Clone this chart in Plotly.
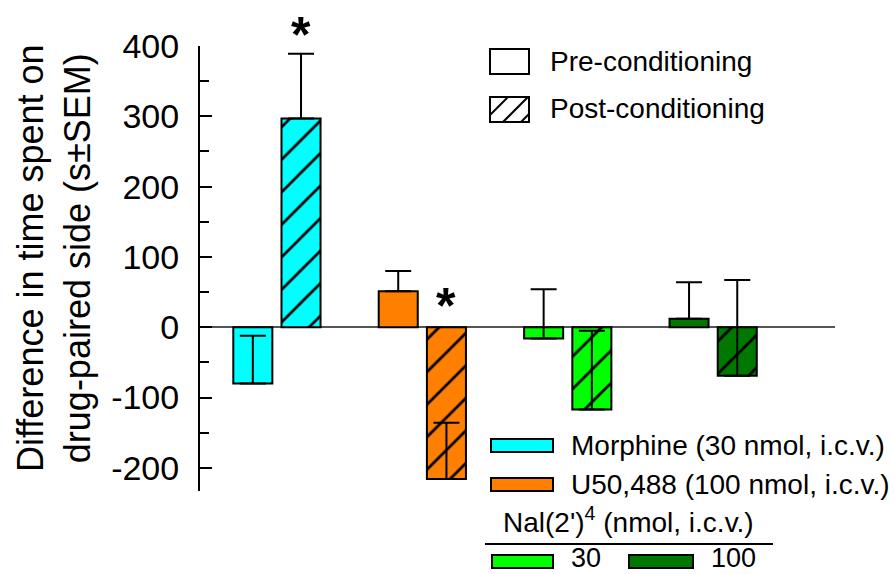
import plotly.graph_objects as go

# ---- data ----
categories = ["Morphine", "U50,488", "Nal30", "Nal100"]
pre_mean = [-80, 51, -16, 12]
pre_sem = [68, 29, 70, 52]
post_mean = [297, -216, -117, -69]
post_sem = [92, 80, 112, 136]
colors = ["#00FFFF", "#FF8000", "#00FF00", "#007800"]
y_ticks = [-200, -100, 0, 100, 200, 300, 400]
y_tick_labels = ["-200", "-100", "0", "100", "200", "300", "400"]

FONT = "Liberation Sans, Arial, sans-serif"

fig = go.Figure()
for i, cat in enumerate(categories):
    fig.add_trace(go.Bar(
        x=[cat], y=[pre_mean[i]], name=cat + " pre", offsetgroup="pre",
        marker=dict(color=colors[i], line=dict(color="black", width=2)),
        error_y=dict(type="data", symmetric=False, array=[pre_sem[i]],
                     arrayminus=[0], color="black", thickness=2, width=13),
        showlegend=False,
    ))
    fig.add_trace(go.Bar(
        x=[cat], y=[post_mean[i]], name=cat + " post", offsetgroup="post",
        marker=dict(color=colors[i], line=dict(color="black", width=2),
                    pattern=dict(shape="/", fillmode="overlay", bgcolor=colors[i],
                                 fgcolor="black", fgopacity=1, size=23, solidity=0.12)),
        error_y=dict(type="data", symmetric=False, array=[post_sem[i]],
                     arrayminus=[0], color="black", thickness=2, width=13),
        showlegend=False,
    ))

L, R, T, B = 200, 59, 46, 83
W, H = 894, 574
PW, PH = W - L - R, H - T - B


def px(x):
    return (x - L) / PW


def py(y):
    return (H - B - y) / PH


shapes = []
annotations = []

# legend 1 (pre/post)
shapes.append(dict(type="rect", xref="paper", yref="paper", x0=px(490), x1=px(529),
                   y0=py(74), y1=py(49), line=dict(color="black", width=2), fillcolor="white"))
shapes.append(dict(type="rect", xref="paper", yref="paper", x0=px(490), x1=px(529),
                   y0=py(122), y1=py(97), line=dict(color="black", width=2), fillcolor="white"))
for (x0, y0, x1, y1) in [(490, 115, 508, 97), (503, 122, 528, 97), (521, 122, 529, 114)]:
    shapes.append(dict(type="line", xref="paper", yref="paper", x0=px(x0), y0=py(y0),
                       x1=px(x1), y1=py(y1), line=dict(color="black", width=2)))
annotations.append(dict(text="Pre-conditioning", x=px(548), y=py(62), xref="paper", yref="paper",
                        xanchor="left", yanchor="middle", showarrow=False,
                        font=dict(size=28, family=FONT, color="black")))
annotations.append(dict(text="Post-conditioning", x=px(548), y=py(109), xref="paper", yref="paper",
                        xanchor="left", yanchor="middle", showarrow=False,
                        font=dict(size=28, family=FONT, color="black")))

# legend 2 (drugs)
swatches = [(491, 553, 439, 452, colors[0]), (491, 553, 478, 491, colors[1]),
            (492, 553, 555, 568, colors[2]), (629, 693, 555, 568, colors[3])]
for (x0, x1, y0, y1, c) in swatches:
    shapes.append(dict(type="rect", xref="paper", yref="paper", x0=px(x0), x1=px(x1),
                       y0=py(y1), y1=py(y0), line=dict(color="black", width=2), fillcolor=c))
shapes.append(dict(type="line", xref="paper", yref="paper", x0=px(485), x1=px(773),
                   y0=py(544), y1=py(544), line=dict(color="black", width=2)))
for (txt, x, y, s) in [("Morphine (30 nmol, i.c.v.)", 570, 445, 28),
                       ("U50,488 (100 nmol, i.c.v.)", 570, 484, 28),
                       ("Nal(2')<sup>4</sup> (nmol, i.c.v.)", 502, 520, 28),
                       ("30", 570, 558, 27), ("100", 710, 558, 27)]:
    annotations.append(dict(text=txt, x=px(x), y=py(y), xref="paper", yref="paper",
                            xanchor="left", yanchor="middle", showarrow=False, borderpad=0,
                            font=dict(size=s, family=FONT, color="black")))

# y-axis title
annotations.append(dict(text="Difference in time spent on<br>drug-paired side (s±SEM)",
                        x=px(54), y=py(258), xref="paper", yref="paper", textangle=-90,
                        xanchor="center", yanchor="middle", showarrow=False,
                        font=dict(size=36, family=FONT, color="black")))

# significance asterisks
annotations.append(dict(text="<b>*</b>", x=categories[0], y=post_mean[0] + post_sem[0],
                        xref="x", yref="y", xshift=24, yshift=-11, yanchor="bottom",
                        showarrow=False, font=dict(size=50, family=FONT, color="black")))
annotations.append(dict(text="<b>*</b>", x=categories[1], y=0,
                        xref="x", yref="y", xshift=24, yshift=-9, yanchor="bottom",
                        showarrow=False, font=dict(size=50, family=FONT, color="black")))

fig.update_layout(
    width=W, height=H,
    margin=dict(l=L, r=R, t=T, b=B, pad=0),
    paper_bgcolor="white", plot_bgcolor="white",
    barmode="group", bargap=0.337, bargroupgap=0.19,
    font=dict(family=FONT, color="black"),
    shapes=shapes, annotations=annotations,
    xaxis=dict(type="category", categoryorder="array", categoryarray=categories,
               range=[-0.529, 3.838], showline=False, showticklabels=False,
               ticks="", showgrid=False, zeroline=False),
    yaxis=dict(range=[-233, 400], tickvals=y_ticks, ticktext=y_tick_labels,
               showline=True, linecolor="black",
               linewidth=2, ticks="inside", ticklen=12, tickwidth=2, tickcolor="black",
               ticklabelstandoff=12,
               showgrid=False, zeroline=True, zerolinecolor="#555555", zerolinewidth=1.5,
               tickfont=dict(size=34, family=FONT, color="black"),
               minor=dict(ticks="inside", ticklen=9, tickwidth=2, tickcolor="black",
                          dtick=50, tick0=0, showgrid=False)),
)

fig.write_html("out.html", config={"displayModeBar": False},
               post_script="document.body.style.margin='0';document.body.style.overflow='hidden';")
